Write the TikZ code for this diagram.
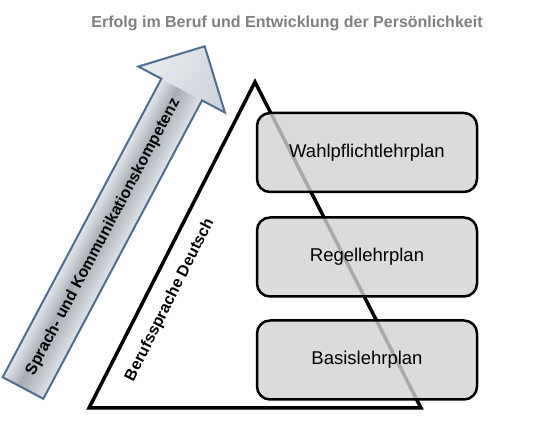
\documentclass[tikz,border=0pt]{standalone}
\usepackage{fontspec}
\setmainfont{Liberation Sans}
\definecolor{titlegray}{HTML}{808080}
\definecolor{arrowedge}{HTML}{4F6D8F}
\definecolor{boxfill}{HTML}{D2D2D2}
\definecolor{mA}{HTML}{7D8594}
\definecolor{mB}{HTML}{B8BEC8}
\definecolor{mC}{HTML}{E8ECF0}
\definecolor{mD}{HTML}{C0C5CC}
\definecolor{mE}{HTML}{A8ADB5}
\definecolor{mF}{HTML}{D5D9DF}
\definecolor{mG}{HTML}{F4F6F8}
\definecolor{mH}{HTML}{C5CCD8}
\definecolor{mI}{HTML}{9AA6B8}
\definecolor{headlight}{HTML}{E8ECF0}
\definecolor{headdark}{HTML}{CDD2D9}
\pgfdeclareverticalshading{metal}{100bp}{color(0bp)=(mA); color(10bp)=(mB); color(22bp)=(mC); color(40bp)=(mD); color(55bp)=(mE); color(70bp)=(mF); color(82bp)=(mG); color(92bp)=(mH); color(100bp)=(mI)}
\begin{document}
\begin{tikzpicture}[x=1pt,y=1pt,
  plan/.style={draw=black, line width=2.5pt, rounded corners=13pt, fill=boxfill, fill opacity=0.8, text opacity=1, minimum width=220pt, minimum height=79pt, font=\fontsize{18.5}{22}\selectfont},
  boldlabel/.style={font=\bfseries\fontsize{16}{19}\selectfont}]
\useasboundingbox (0,0) rectangle (536,441);
% triangle
\coordinate (apex) at (255,359);
\coordinate (bl) at (89,33);
\coordinate (br) at (421,33);
\draw[line width=3.5pt, line join=miter] (bl) -- (apex) -- (br) -- cycle;
% boxes
\node[plan] (wahl) at (367,288.5) {Wahlpflichtlehrplan};
\node[plan] (regel) at (367,184) {Regellehrplan};
\node[plan] (basis) at (367,81) {Basislehrplan};
% side label
\node[boldlabel, rotate=63.4] (beruf) at (170,141) {Berufssprache Deutsch};
% title
\node[boldlabel, text=titlegray] (title) at (287,418) {Erfolg im Beruf und Entwicklung der Persönlichkeit};
% arrow
\begin{scope}[transform canvas={shift={(23pt,53pt)},rotate=62}]
\shade[shading=metal] (0,-23) rectangle (338,23);
\shade[top color=headlight, bottom color=headdark] (338,-49) -- (387,0) -- (338,49) -- cycle;
\draw[arrowedge, line width=2pt, line join=miter] (0,-23) -- (338,-23) -- (338,-49) -- (387,0) -- (338,49) -- (338,23) -- (0,23) -- cycle;
\node[boldlabel] (arrtext) at (171,0) {Sprach- und Kommunikationskompetenz};
\end{scope}
\end{tikzpicture}
\end{document}
